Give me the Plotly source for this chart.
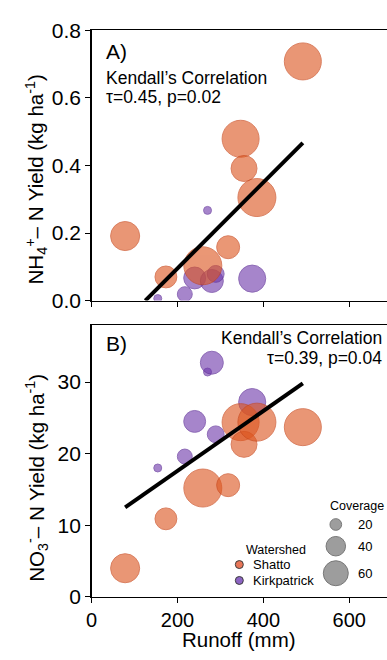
import plotly.graph_objects as go
import numpy as np

# ---------------- data ----------------
shatto_runoff = [78, 173, 259, 318, 347, 355, 385, 492]
shatto_nh4 = [0.191, 0.070, 0.103, 0.158, 0.479, 0.391, 0.305, 0.708]
shatto_no3 = [4.0, 10.9, 15.2, 15.6, 24.4, 21.3, 24.4, 23.7]
shatto_cov = [78, 48, 127, 52, 121, 64, 127, 121]

kirk_runoff = [154, 217, 240, 270, 280, 289, 374]
kirk_nh4 = [0.006, 0.019, 0.067, 0.267, 0.058, 0.079, 0.065]
kirk_no3 = [18.0, 19.6, 24.5, 31.4, 32.7, 22.7, 27.2]
kirk_cov = [14, 27, 48, 14, 52, 32, 69]

fitA_x = [125, 492]
fitA_y = [0.0, 0.467]
fitB_x = [78, 492]
fitB_y = [12.5, 29.8]

cov_legend = [20, 40, 60]
x_ticks = [0, 200, 400, 600]
yA_ticks = [0.0, 0.2, 0.4, 0.6, 0.8]
yB_ticks = [0, 10, 20, 30]

# ---------------- style ----------------
W, H = 387, 660
FONT = "Liberation Sans, Arial, sans-serif"
ORANGE = "rgba(221,86,32,0.88)"
ORANGE_L = "rgba(200,70,25,0.95)"
PURPLE = "rgba(112,58,172,0.88)"
PURPLE_L = "rgba(92,42,150,0.95)"


def diams(cs):
    return list(np.sqrt(12.2 * (np.asarray(cs, dtype=float) - 8.8)))


def px(x):
    return x / W


def py(y):
    return 1 - y / H


fig = go.Figure()

# panel A
fig.add_trace(go.Scatter(x=kirk_runoff, y=kirk_nh4, mode="markers", xaxis="x", yaxis="y",
                         marker=dict(size=diams(kirk_cov), sizemode="diameter", color=PURPLE,
                                     line=dict(color=PURPLE_L, width=1)), showlegend=False))
fig.add_trace(go.Scatter(x=shatto_runoff, y=shatto_nh4, mode="markers", xaxis="x", yaxis="y",
                         marker=dict(size=diams(shatto_cov), sizemode="diameter", color=ORANGE,
                                     line=dict(color=ORANGE_L, width=1)), showlegend=False))
fig.add_trace(go.Scatter(x=fitA_x, y=fitA_y, mode="lines", xaxis="x", yaxis="y",
                         line=dict(color="black", width=4), showlegend=False))

# panel B
fig.add_trace(go.Scatter(x=kirk_runoff, y=kirk_no3, mode="markers", xaxis="x2", yaxis="y2",
                         marker=dict(size=diams(kirk_cov), sizemode="diameter", color=PURPLE,
                                     line=dict(color=PURPLE_L, width=1)), showlegend=False))
fig.add_trace(go.Scatter(x=shatto_runoff, y=shatto_no3, mode="markers", xaxis="x2", yaxis="y2",
                         marker=dict(size=diams(shatto_cov), sizemode="diameter", color=ORANGE,
                                     line=dict(color=ORANGE_L, width=1)), showlegend=False))
fig.add_trace(go.Scatter(x=fitB_x, y=fitB_y, mode="lines", xaxis="x2", yaxis="y2",
                         line=dict(color="black", width=4), showlegend=False))

x_left = 87
x_dom = [px(x_left), 1.0]
x_range = [0, (W - x_left) / 0.436]

axis_common = dict(showgrid=False, zeroline=False, showline=True, linecolor="black", linewidth=1.5,
                   ticks="outside", ticklen=5, tickwidth=1, tickcolor="black",
                   tickfont=dict(size=21, color="black", family=FONT))
axis_x2 = dict(axis_common)
axis_x2["tickfont"] = dict(size=20, color="black", family=FONT)

fig.update_layout(
    width=W, height=H,
    margin=dict(l=0, r=0, t=0, b=0),
    paper_bgcolor="white", plot_bgcolor="white",
    font=dict(family=FONT, color="black"),
    hovermode=False,
    xaxis=dict(domain=x_dom, range=x_range, anchor="y", tickvals=x_ticks, showticklabels=False,
               mirror=True, **axis_common),
    yaxis=dict(domain=[py(299), py(19)], range=[0, 0.8], anchor="x", tickvals=yA_ticks,
               tickformat=".1f", **axis_common),
    xaxis2=dict(domain=x_dom, range=x_range, anchor="y2", tickvals=x_ticks,
                mirror=True, **axis_x2),
    yaxis2=dict(domain=[py(606), py(324.7)], range=[0, (606 - 324.7) / 7.42], anchor="x2",
                tickvals=yB_ticks, **axis_common),
)

ann = []
ann.append(dict(text="A)", x=px(100), y=py(41), xanchor="left", yanchor="middle", font=dict(size=21)))
ann.append(dict(text="Kendall\u2019s Correlation", x=px(100), y=py(68), xanchor="left", yanchor="middle",
                font=dict(size=17.5)))
ann.append(dict(text="\u03c4=0.45, p=0.02", x=px(100), y=py(88), xanchor="left", yanchor="middle",
                font=dict(size=17.5)))
ann.append(dict(text="B)", x=px(100), y=py(343), xanchor="left", yanchor="middle", font=dict(size=21)))
ann.append(dict(text="Kendall\u2019s Correlation", x=px(384), y=py(337.5), xanchor="right", yanchor="middle",
                font=dict(size=17.5)))
ann.append(dict(text="\u03c4=0.39, p=0.04", x=px(384), y=py(359), xanchor="right", yanchor="middle",
                font=dict(size=17.5)))
# axis titles
ann.append(dict(text="NH<sub>4</sub><sup>+</sup>\u2013 N Yield (kg ha<sup>-1</sup>)", x=px(31), y=py(174),
                xanchor="center", yanchor="middle", textangle=-90, font=dict(size=20.5)))
ann.append(dict(text="NO<sub>3</sub><sup>-</sup>\u2013 N Yield (kg ha<sup>-1</sup>)", x=px(31), y=py(483),
                xanchor="center", yanchor="middle", textangle=-90, font=dict(size=20.5)))
ann.append(dict(text="Runoff (mm)", x=px(237), y=py(650.5), xanchor="center", yanchor="middle",
                font=dict(size=20.5)))
# watershed legend
ann.append(dict(text="Watershed", x=px(242), y=py(557), xanchor="left", yanchor="middle", font=dict(size=12.5)))
ann.append(dict(text="Shatto", x=px(249), y=py(572.5), xanchor="left", yanchor="middle", font=dict(size=13)))
ann.append(dict(text="Kirkpatrick", x=px(249), y=py(589), xanchor="left", yanchor="middle", font=dict(size=13)))
# coverage legend
ann.append(dict(text="Coverage", x=px(327), y=py(511.5), xanchor="left", yanchor="middle", font=dict(size=12.5)))
cov_y = [531, 553.5, 581.5]
for c, yy in zip(cov_legend, cov_y):
    ann.append(dict(text=str(c), x=px(356), y=py(yy), xanchor="left", yanchor="middle", font=dict(size=13)))

for a in ann:
    a.update(xref="paper", yref="paper", showarrow=False)
    a["font"] = dict(family=FONT, color="black", **a["font"])
fig.update_layout(annotations=ann)

shapes = []


def circ(cx, cy, d, fill, line, lw=1):
    r = d / 2
    return dict(type="circle", xref="paper", yref="paper", xsizemode="pixel", ysizemode="pixel",
                xanchor=px(cx), yanchor=py(cy), x0=-r, x1=r, y0=-r, y1=r,
                fillcolor=fill, line=dict(color=line, width=lw))


shapes.append(circ(237, 572.5, 8, "rgba(232,118,88,1)", "rgb(60,60,60)", 1))
shapes.append(circ(237, 589, 8, "rgba(140,100,195,1)", "rgb(60,60,60)", 1))
for c, yy in zip(cov_legend, cov_y):
    shapes.append(circ(335, yy, diams([c])[0], "rgba(140,140,140,0.85)", "rgba(120,120,120,1)", 1))
fig.update_layout(shapes=shapes)

fig.write_html("out.html", config={"displayModeBar": False, "staticPlot": True},
               post_script="document.body.style.margin='0';document.body.style.overflow='hidden';")
